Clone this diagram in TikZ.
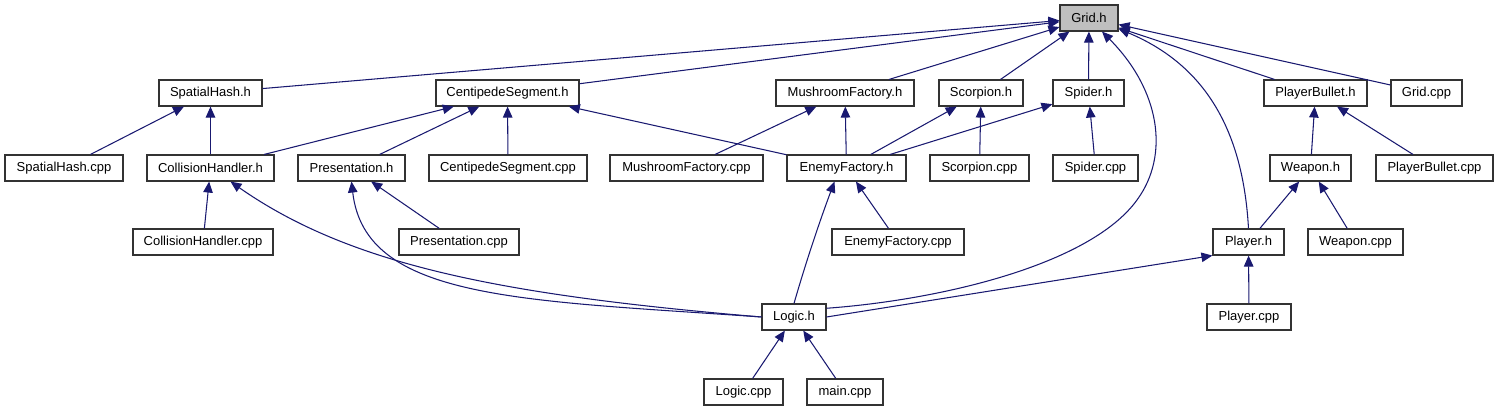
\documentclass[tikz,border=0pt]{standalone}
\usepackage{fontspec}
\setmainfont{Liberation Sans}
\usetikzlibrary{arrows.meta}
\definecolor{edgeblue}{HTML}{191970}
\definecolor{rootgray}{HTML}{BFBFBF}
\begin{document}
\begin{tikzpicture}[x=0.02cm,y=-0.02cm,
  file/.style={draw=black!80,line width=0.65pt,fill=white,minimum height=0.52cm,inner sep=0pt,
    font=\fontsize{7.4}{8.8}\selectfont},
  root/.style={file,fill=rootgray},
  dep/.style={draw=edgeblue,line width=0.6pt,-{Triangle[length=0.22cm,width=0.19cm]}}]
  \useasboundingbox (0,0) rectangle (1499,411);
  % nodes
  \node (grid) at (1089,18) [root,minimum width=1.16cm] {Grid.h};
  % row 1
  \node (spatialh) at (210.5,93)  [file,minimum width=2.06cm] {SpatialHash.h};
  \node (centh)    at (507.5,93)  [file,minimum width=2.86cm] {CentipedeSegment.h};
  \node (mushh)    at (845,93)    [file,minimum width=2.76cm] {MushroomFactory.h};
  \node (scorph)   at (981,93)    [file,minimum width=1.68cm] {Scorpion.h};
  \node (spiderh)  at (1088.5,93) [file,minimum width=1.42cm] {Spider.h};
  \node (bulleth)  at (1315.5,93) [file,minimum width=2.06cm] {PlayerBullet.h};
  \node (gridcpp)  at (1426.5,93) [file,minimum width=1.42cm] {Grid.cpp};
  % row 2
  \node (spatialcpp) at (64,168)     [file,minimum width=2.36cm] {SpatialHash.cpp};
  \node (collh)      at (210.5,168)  [file,minimum width=2.54cm] {CollisionHandler.h};
  \node (presh)      at (351.5,168)  [file,minimum width=2.14cm] {Presentation.h};
  \node (centcpp)    at (508,168)    [file,minimum width=3.16cm] {CentipedeSegment.cpp};
  \node (mushcpp)    at (686.5,168)  [file,minimum width=3.06cm] {MushroomFactory.cpp};
  \node (enemyh)     at (846.5,168)  [file,minimum width=2.38cm] {EnemyFactory.h};
  \node (scorpcpp)   at (979.5,168)  [file,minimum width=1.98cm] {Scorpion.cpp};
  \node (spidercpp)  at (1095.5,168) [file,minimum width=1.70cm] {Spider.cpp};
  \node (weaponh)    at (1310.5,168) [file,minimum width=1.62cm] {Weapon.h};
  \node (bulletcpp)  at (1434.5,168) [file,minimum width=2.34cm] {PlayerBullet.cpp};
  % row 3
  \node (collcpp)   at (203,242)    [file,minimum width=2.80cm] {CollisionHandler.cpp};
  \node (prescpp)   at (459,242)    [file,minimum width=2.40cm] {Presentation.cpp};
  \node (enemycpp)  at (898,242)    [file,minimum width=2.64cm] {EnemyFactory.cpp};
  \node (playerh)   at (1248.5,242) [file,minimum width=1.42cm] {Player.h};
  \node (weaponcpp) at (1355.5,242) [file,minimum width=1.90cm] {Weapon.cpp};
  % rows 4 and 5
  \node (logich)    at (794,317)    [file,minimum width=1.28cm] {Logic.h};
  \node (playercpp) at (1249,317)   [file,minimum width=1.68cm] {Player.cpp};
  \node (logiccpp)  at (743.5,392)  [file,minimum width=1.58cm] {Logic.cpp};
  \node (maincpp)   at (845,392)    [file,minimum width=1.52cm] {main.cpp};
  % includes of Grid.h
  \draw[dep] (spatialh) -- (grid);
  \draw[dep] (centh) -- (grid);
  \draw[dep] (mushh) -- (grid);
  \draw[dep] (scorph) -- (grid);
  \draw[dep] (spiderh) -- (grid);
  \draw[dep] (bulleth) -- (grid);
  \draw[dep] (gridcpp) -- (grid);
  \draw[dep] (logich.15) .. controls (940,300) and (1090,265) .. (1137,200)
    .. controls (1170,155) and (1160,90) .. ([xshift=0.26cm]grid.south);
  \draw[dep] (playerh.north) .. controls (1243,130) and (1205,65) .. (grid.-20);
  % second level
  \draw[dep] (spatialcpp) -- (spatialh);
  \draw[dep] (collh) -- (spatialh);
  \draw[dep] (collh) -- (centh);
  \draw[dep] (presh) -- (centh);
  \draw[dep] (centcpp) -- (centh);
  \draw[dep] (enemyh) -- (centh);
  \draw[dep] (mushcpp) -- (mushh);
  \draw[dep] (enemyh) -- (mushh);
  \draw[dep] (enemyh) -- (scorph);
  \draw[dep] (scorpcpp) -- (scorph);
  \draw[dep] (enemyh) -- (spiderh);
  \draw[dep] (spidercpp) -- (spiderh);
  \draw[dep] (weaponh) -- (bulleth);
  \draw[dep] (bulletcpp) -- (bulleth);
  % third level
  \draw[dep] (collcpp) -- (collh);
  \draw[dep] (prescpp) -- (presh);
  \draw[dep] (enemycpp) -- (enemyh);
  \draw[dep] (playerh) -- (weaponh);
  \draw[dep] (weaponcpp) -- (weaponh);
  \draw[dep] (logich.west) .. controls (500,295) and (350,265) .. ([xshift=0.4cm]collh.south);
  \draw[dep] (logich.west) .. controls (520,300) and (365,300) .. (presh.south);
  \draw[dep] (logich.north) .. controls (808,255) and (822,215) .. ([xshift=-0.24cm]enemyh.south);
  % Logic.h and Player.h
  \draw[dep] (logich.east) -- (playerh.south west);
  \draw[dep] (playercpp) -- (playerh);
  \draw[dep] (logiccpp) -- (logich);
  \draw[dep] (maincpp) -- (logich);
\end{tikzpicture}
\end{document}
